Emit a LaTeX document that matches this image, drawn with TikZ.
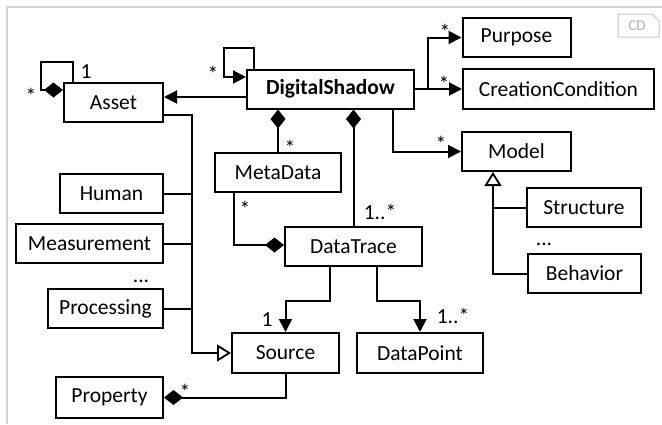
\documentclass[tikz,border=0pt]{standalone}
\usepackage{fontspec}
\setmainfont{Carlito}
\usetikzlibrary{arrows.meta}

\tikzset{
  cls/.style={draw, line width=2pt, inner sep=0pt, minimum height=39pt, font=\fontsize{21.5}{25}\selectfont},
  mult/.style={inner sep=0pt, anchor=base, font=\fontsize{21.5}{25}\selectfont},
  conn/.style={line width=2pt},
  assoc/.style={conn, -{Triangle[length=13pt,width=13pt]}},
  comp/.style={conn, -{Diamond[length=19pt,width=15pt]}},
  gen/.style={conn, -{Triangle[open,length=14pt,width=17pt,line width=1.8pt]}}
}

\begin{document}
\begin{tikzpicture}[x=1pt, y=-1pt]
				\useasboundingbox (0,0) rectangle (662,424);
				% frame and badge
				\draw[gray!35, line width=1.2pt] (7,424) -- (7,7) -- (662,7);
				\draw[gray!45, line width=1pt] (618,14) -- (652,14) -- (659,21) -- (659,37) -- (618,37) -- cycle;
				\node[text=gray!60, font=\fontsize{15}{18}\selectfont] (cd) at (637,26) {CD};

				% classes
				\node[cls, minimum width=99pt] (Asset) at (113.5,102.5) {Asset};
				\node[cls, minimum width=167pt, font=\fontsize{21.5}{25}\selectfont\bfseries] (DS) at (330.5,89) {DigitalShadow};
				\node[cls, minimum width=108pt] (Purpose) at (516.5,37.5) {Purpose};
				\node[cls, minimum width=191pt, minimum height=40pt] (CC) at (558.5,89) {CreationCondition};
				\node[cls, minimum width=109pt] (Model) at (516.5,151.5) {Model};
				\node[cls, minimum width=114pt] (Structure) at (584,207.5) {Structure};
				\node[cls, minimum width=113pt] (Behavior) at (584.5,273.5) {Behavior};
				\node[cls, minimum width=126pt] (MetaData) at (278,172.5) {MetaData};
				\node[cls, minimum width=137pt] (DataTrace) at (353.5,246.5) {DataTrace};
				\node[cls, minimum width=103pt] (Human) at (111.5,193.5) {Human};
				\node[cls, minimum width=147pt] (Measurement) at (89.5,243.5) {Measurement};
				\node[cls, minimum width=115pt] (Processing) at (105.5,308.5) {Processing};
				\node[cls, minimum width=107pt, minimum height=40pt] (Source) at (285.5,353) {Source};
				\node[cls, minimum width=126pt, minimum height=40pt] (DataPoint) at (420,353) {DataPoint};
				\node[cls, minimum width=107pt, minimum height=41pt] (Property) at (109.5,397.5) {Property};
				\node[mult] (dotsA) at (141,282) {...};
				\node[mult] (dotsM) at (544,245) {...};

				% associations
				\draw[comp] ([xshift=-40.5pt]Asset.north) |- ++(-32,-20) |- ([yshift=12.5pt]Asset.west);
				\draw[assoc] ([xshift=-76.5pt]DS.north) |- ++(-30,-21) |- ([yshift=12pt]DS.west);
				\draw[assoc] ([yshift=-8pt]DS.west) -- ([yshift=5.5pt]Asset.east);
				\draw[assoc] (DS.east) -- ++(13,0) |- (Purpose.west);
				\draw[assoc] (DS.east) -- (CC.west);
				\draw[assoc] ([xshift=62.5pt]DS.south) |- (Model.west);
				\draw[comp] (MetaData.north) -- (MetaData.north |- DS.south);
				\draw[comp] (DataTrace.north) -- (DataTrace.north |- DS.south);
				\draw[comp] ([xshift=-44pt]MetaData.south) |- ([yshift=1.5pt]DataTrace.west);
				\draw[assoc] ([xshift=-23.5pt]DataTrace.south) -- ++(0,34) -| (Source.north);
				\draw[assoc] ([xshift=23pt]DataTrace.south) -- ++(0,34) -| (DataPoint.north);
				\draw[comp] (Source.south) |- (Property.east);

				% generalisations
				\draw[gen] (Behavior.west) -| ([xshift=-23.5pt]Model.south);
				\draw[conn] (Structure.west) -- ++(-34,0);
				\draw[gen] ([yshift=-12.5pt]Asset.east) -- ++(28,0) |- (Source.west);
				\draw[conn] (Human.east) -- ++(28,0);
				\draw[conn] (Measurement.east) -- ++(28,0);
				\draw[conn] (Processing.east) -- ++(28,0);

				% multiplicities
				\node[mult] (mA1) at (31,103) {*};
				\node[mult] (mA2) at (86,78) {1};
				\node[mult] (mDS) at (213,81) {*};
				\node[mult] (mP) at (445,39) {*};
				\node[mult] (mCC) at (444,91) {*};
				\node[mult] (mM) at (441,151) {*};
				\node[mult] (mMD) at (290,155) {*};
				\node[mult] (mDT) at (380,219) {1..*};
				\node[mult] (mMT) at (245,216) {*};
				\node[mult] (mS) at (267,326) {1};
				\node[mult] (mDP) at (453,323) {1..*};
				\node[mult] (mPr) at (185,399) {*};
			\end{tikzpicture}
\end{document}
